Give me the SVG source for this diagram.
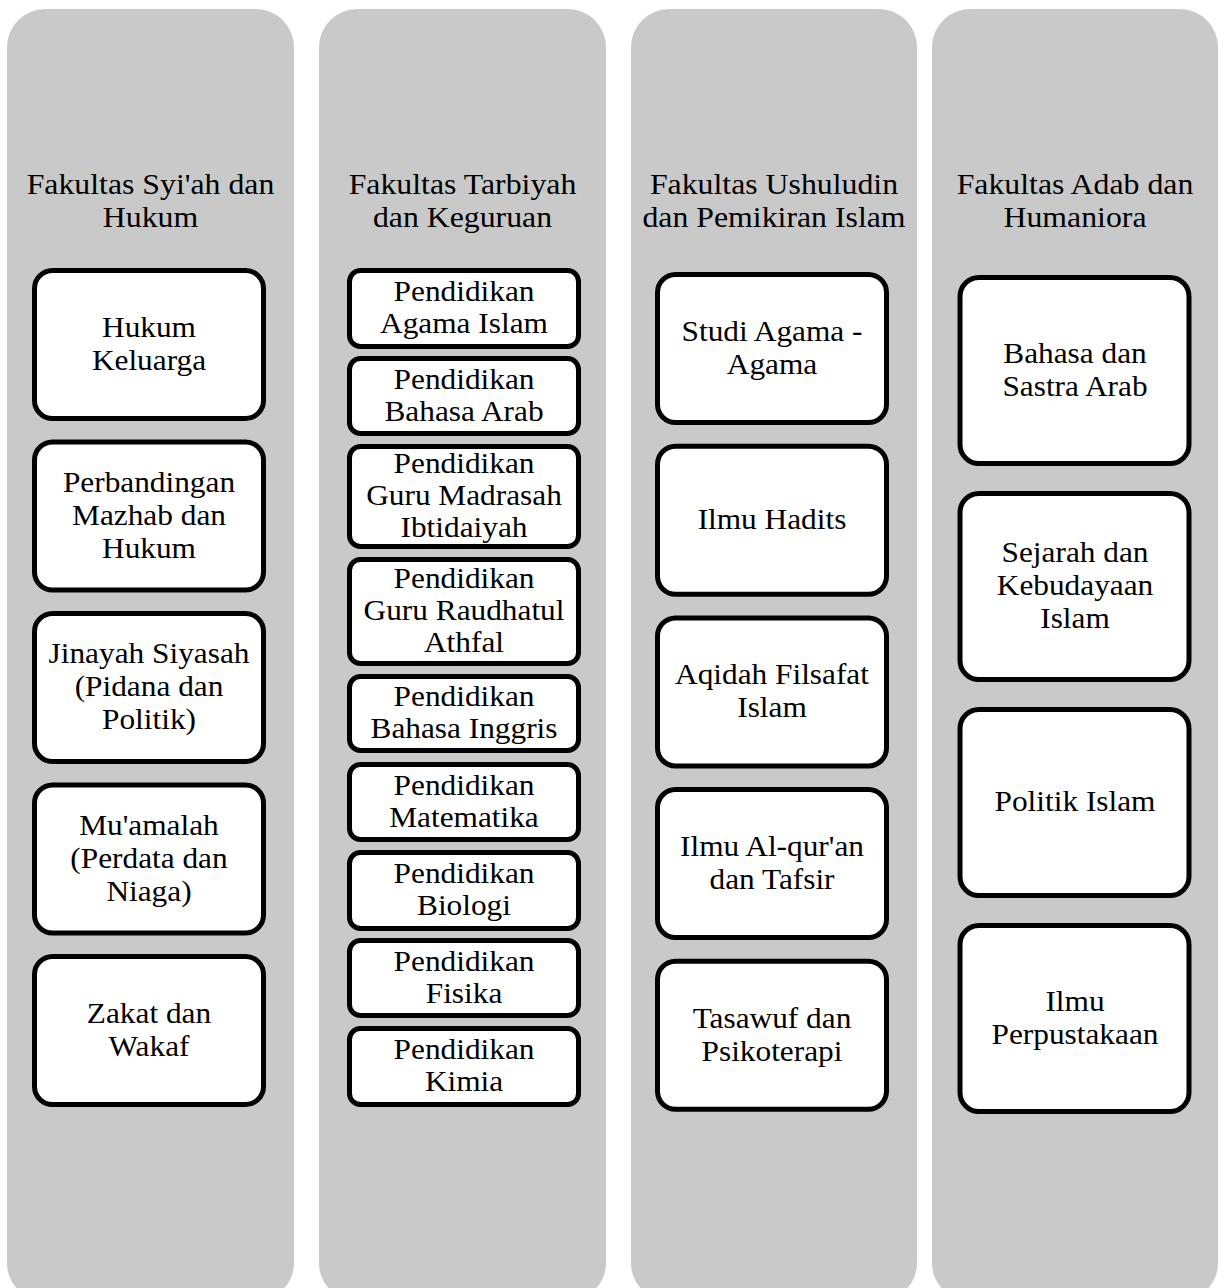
<svg xmlns="http://www.w3.org/2000/svg" width="1227" height="1288" viewBox="0 0 1227 1288">
<style>
.col{fill:#c9c9c9;}
.box{fill:#ffffff;stroke:#000000;stroke-width:5;}
.hd{font-family:"Liberation Serif","Times New Roman",serif;font-size:30px;fill:#000;text-anchor:middle;}
.tx{font-family:"Liberation Serif","Times New Roman",serif;font-size:29px;fill:#000;text-anchor:middle;}
</style>
<rect width="1227" height="1288" fill="#ffffff"/>
<g id="col-syiah">
<rect class="col" x="7" y="9" width="287" height="1292" rx="38"/>
<text class="hd" transform="translate(150.5 0) scale(1.06 1)"><tspan x="0" y="194">Fakultas Syi'ah dan</tspan><tspan x="0" y="227.5">Hukum</tspan></text>
</g>
<g id="col-tarbiyah">
<rect class="col" x="319" y="9" width="287" height="1292" rx="38"/>
<text class="hd" transform="translate(462.5 0) scale(1.06 1)"><tspan x="0" y="194">Fakultas Tarbiyah</tspan><tspan x="0" y="227.5">dan Keguruan</tspan></text>
</g>
<g id="col-ushuludin">
<rect class="col" x="631" y="9" width="286" height="1292" rx="38"/>
<text class="hd" transform="translate(774 0) scale(1.06 1)"><tspan x="0" y="194">Fakultas Ushuludin</tspan><tspan x="0" y="227.5">dan Pemikiran Islam</tspan></text>
</g>
<g id="col-adab">
<rect class="col" x="932" y="9" width="286" height="1292" rx="38"/>
<text class="hd" transform="translate(1075 0) scale(1.06 1)"><tspan x="0" y="194">Fakultas Adab dan</tspan><tspan x="0" y="227.5">Humaniora</tspan></text>
</g>
<g id="connectors"></g>
<!-- Column 1 -->
<g id="n-hukum-keluarga">
<rect class="box" x="34.5" y="270.5" width="229" height="148" rx="18"/>
<text class="tx" transform="translate(149 0) scale(1.08 1)"><tspan x="0" y="337">Hukum</tspan><tspan x="0" y="370">Keluarga</tspan></text>
</g>
<g id="n-perbandingan">
<rect class="box" x="34.5" y="442" width="229" height="148" rx="18"/>
<text class="tx" transform="translate(149 0) scale(1.08 1)"><tspan x="0" y="492">Perbandingan</tspan><tspan x="0" y="525">Mazhab dan</tspan><tspan x="0" y="558">Hukum</tspan></text>
</g>
<g id="n-jinayah">
<rect class="box" x="34.5" y="613.5" width="229" height="148" rx="18"/>
<text class="tx" transform="translate(149 0) scale(1.08 1)"><tspan x="0" y="663.5">Jinayah Siyasah</tspan><tspan x="0" y="696.5">(Pidana dan</tspan><tspan x="0" y="729.5">Politik)</tspan></text>
</g>
<g id="n-muamalah">
<rect class="box" x="34.5" y="785" width="229" height="148" rx="18"/>
<text class="tx" transform="translate(149 0) scale(1.08 1)"><tspan x="0" y="835">Mu'amalah</tspan><tspan x="0" y="868">(Perdata dan</tspan><tspan x="0" y="901">Niaga)</tspan></text>
</g>
<g id="n-zakat">
<rect class="box" x="34.5" y="956.5" width="229" height="148" rx="18"/>
<text class="tx" transform="translate(149 0) scale(1.08 1)"><tspan x="0" y="1023">Zakat dan</tspan><tspan x="0" y="1056">Wakaf</tspan></text>
</g>
<!-- Column 2 -->
<g id="n-pai">
<rect class="box" x="349.5" y="270.5" width="229" height="76" rx="11"/>
<text class="tx" transform="translate(464 0) scale(1.08 1)"><tspan x="0" y="301.5">Pendidikan</tspan><tspan x="0" y="333.5">Agama Islam</tspan></text>
</g>
<g id="n-pba">
<rect class="box" x="349.5" y="358.5" width="229" height="75" rx="11"/>
<text class="tx" transform="translate(464 0) scale(1.08 1)"><tspan x="0" y="389">Pendidikan</tspan><tspan x="0" y="421">Bahasa Arab</tspan></text>
</g>
<g id="n-pgmi">
<rect class="box" x="349.5" y="446.5" width="229" height="100" rx="11"/>
<text class="tx" transform="translate(464 0) scale(1.08 1)"><tspan x="0" y="473.5">Pendidikan</tspan><tspan x="0" y="505.5">Guru Madrasah</tspan><tspan x="0" y="537.5">Ibtidaiyah</tspan></text>
</g>
<g id="n-pgra">
<rect class="box" x="349.5" y="559.5" width="229" height="104" rx="11"/>
<text class="tx" transform="translate(464 0) scale(1.08 1)"><tspan x="0" y="588.5">Pendidikan</tspan><tspan x="0" y="620.5">Guru Raudhatul</tspan><tspan x="0" y="652.5">Athfal</tspan></text>
</g>
<g id="n-pbi">
<rect class="box" x="349.5" y="676.5" width="229" height="74" rx="11"/>
<text class="tx" transform="translate(464 0) scale(1.08 1)"><tspan x="0" y="706.5">Pendidikan</tspan><tspan x="0" y="738.5">Bahasa Inggris</tspan></text>
</g>
<g id="n-pmat">
<rect class="box" x="349.5" y="764.5" width="229" height="75" rx="11"/>
<text class="tx" transform="translate(464 0) scale(1.08 1)"><tspan x="0" y="795">Pendidikan</tspan><tspan x="0" y="827">Matematika</tspan></text>
</g>
<g id="n-pbio">
<rect class="box" x="349.5" y="852.5" width="229" height="76" rx="11"/>
<text class="tx" transform="translate(464 0) scale(1.08 1)"><tspan x="0" y="883.5">Pendidikan</tspan><tspan x="0" y="915.5">Biologi</tspan></text>
</g>
<g id="n-pfis">
<rect class="box" x="349.5" y="940.5" width="229" height="75" rx="11"/>
<text class="tx" transform="translate(464 0) scale(1.08 1)"><tspan x="0" y="971">Pendidikan</tspan><tspan x="0" y="1003">Fisika</tspan></text>
</g>
<g id="n-pkim">
<rect class="box" x="349.5" y="1028.5" width="229" height="76" rx="11"/>
<text class="tx" transform="translate(464 0) scale(1.08 1)"><tspan x="0" y="1059.5">Pendidikan</tspan><tspan x="0" y="1091.5">Kimia</tspan></text>
</g>
<!-- Column 3 -->
<g id="n-studi-agama">
<rect class="box" x="657.5" y="274.5" width="229" height="148" rx="18"/>
<text class="tx" transform="translate(772 0) scale(1.08 1)"><tspan x="0" y="341">Studi Agama -</tspan><tspan x="0" y="374">Agama</tspan></text>
</g>
<g id="n-ilmu-hadits">
<rect class="box" x="657.5" y="446.2" width="229" height="148" rx="18"/>
<text class="tx" transform="translate(772 0) scale(1.08 1)"><tspan x="0" y="529">Ilmu Hadits</tspan></text>
</g>
<g id="n-aqidah">
<rect class="box" x="657.5" y="617.9" width="229" height="148" rx="18"/>
<text class="tx" transform="translate(772 0) scale(1.08 1)"><tspan x="0" y="684.4">Aqidah Filsafat</tspan><tspan x="0" y="717.4">Islam</tspan></text>
</g>
<g id="n-alquran">
<rect class="box" x="657.5" y="789.6" width="229" height="148" rx="18"/>
<text class="tx" transform="translate(772 0) scale(1.08 1)"><tspan x="0" y="856">Ilmu Al-qur'an</tspan><tspan x="0" y="889">dan Tafsir</tspan></text>
</g>
<g id="n-tasawuf">
<rect class="box" x="657.5" y="961.3" width="229" height="148" rx="18"/>
<text class="tx" transform="translate(772 0) scale(1.08 1)"><tspan x="0" y="1027.8">Tasawuf dan</tspan><tspan x="0" y="1060.8">Psikoterapi</tspan></text>
</g>
<!-- Column 4 -->
<g id="n-bsa">
<rect class="box" x="960" y="277.5" width="229" height="186" rx="19"/>
<text class="tx" transform="translate(1075 0) scale(1.08 1)"><tspan x="0" y="363">Bahasa dan</tspan><tspan x="0" y="396">Sastra Arab</tspan></text>
</g>
<g id="n-ski">
<rect class="box" x="960" y="493.5" width="229" height="186" rx="19"/>
<text class="tx" transform="translate(1075 0) scale(1.08 1)"><tspan x="0" y="562.5">Sejarah dan</tspan><tspan x="0" y="595.5">Kebudayaan</tspan><tspan x="0" y="628.5">Islam</tspan></text>
</g>
<g id="n-politik">
<rect class="box" x="960" y="709.5" width="229" height="186" rx="19"/>
<text class="tx" transform="translate(1075 0) scale(1.08 1)"><tspan x="0" y="811.5">Politik Islam</tspan></text>
</g>
<g id="n-perpus">
<rect class="box" x="960" y="925.5" width="229" height="186" rx="19"/>
<text class="tx" transform="translate(1075 0) scale(1.08 1)"><tspan x="0" y="1011">Ilmu</tspan><tspan x="0" y="1044">Perpustakaan</tspan></text>
</g>
</svg>
